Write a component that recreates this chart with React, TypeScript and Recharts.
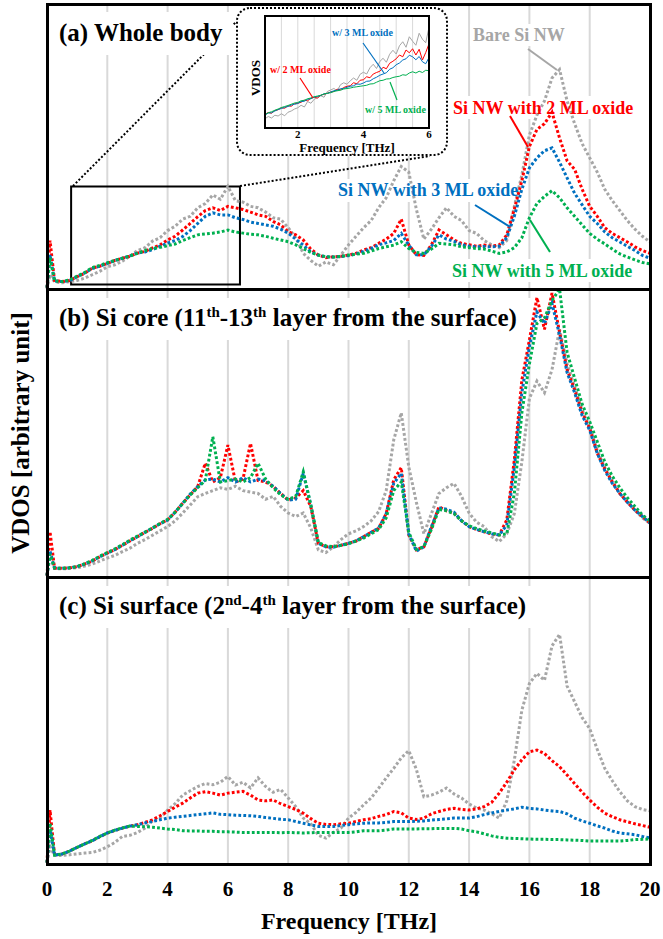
import React from 'react';
import { LineChart, Line, XAxis, YAxis, ReferenceLine, ReferenceArea } from 'recharts';

const FONT = "'Liberation Serif', 'Times New Roman', Times, serif";

// Frequency grid [THz]
const FREQ = [
  0, 0.1,
  0.25, 0.5, 0.75, 1, 1.25, 1.5, 1.75, 2, 2.25, 2.5, 2.75, 3, 3.25, 3.5, 3.75, 4,
  4.25, 4.5, 4.75, 5, 5.25, 5.5, 5.75, 6, 6.25, 6.5, 6.75, 7, 7.25, 7.5, 7.75, 8,
  8.25, 8.5, 8.75, 9, 9.25, 9.5, 9.75, 10, 10.25, 10.5, 10.75, 11, 11.25, 11.5, 11.75, 12,
  12.25, 12.5, 12.75, 13, 13.25, 13.5, 13.75, 14, 14.25, 14.5, 14.75, 15, 15.25, 15.5, 15.75, 16,
  16.25, 16.5, 16.75, 17, 17.25, 17.5, 17.75, 18, 18.25, 18.5, 18.75, 19, 19.25, 19.5, 19.75, 20,
];

// (a) Whole body
const A_BARE = [0, 5,
  2.5, 2.2, 2.6, 3.0, 3.8, 5.0, 6.2, 7.8, 8.5, 9.8, 11.5, 13.5, 14.5, 16.8, 18.0, 20.5,
  22.0, 24.5, 25.5, 28.5, 30.0, 33.0, 31.5, 36.0, 31.0, 30.5, 29.0, 28.5, 27.0, 25.0, 24.5, 21.5,
  18.0, 12.5, 10.0, 8.0, 9.5, 8.5, 12.0, 15.5, 18.5, 21.5, 24.0, 28.5, 32.0, 38.0, 43.0, 41.0,
  28.0, 17.5, 21.0, 25.0, 28.5, 25.5, 24.0, 20.5, 19.5, 17.0, 15.5, 14.5, 17.0, 29.0, 40.0, 54.0,
  61.0, 66.0, 74.0, 77.0, 66.0, 58.0, 51.0, 46.0, 41.0, 35.0, 31.0, 27.5, 24.0, 21.0, 18.5, 16.5,
];
const A_2ML = [0.5, 17,
  3.0, 2.6, 3.0, 4.3, 5.5, 7.3, 8.0, 9.0, 10.0, 10.8, 11.5, 12.6, 13.2, 14.4, 15.5, 17.2,
  18.5, 20.7, 23.0, 25.4, 27.5, 28.5, 27.5, 29.0, 28.5, 27.9, 27.0, 26.0, 25.5, 23.7, 22.5, 20.1,
  19.0, 17.2, 14.0, 11.9, 11.0, 11.3, 11.5, 11.9, 12.5, 13.7, 14.5, 16.0, 17.5, 19.5, 24.5, 15.5,
  12.0, 11.8, 15.5, 20.7, 19.0, 17.2, 16.0, 15.5, 15.0, 15.4, 15.0, 15.5, 19.0, 28.0, 38.0, 50.0,
  56.0, 58.0, 62.0, 53.0, 45.0, 42.0, 35.0, 29.0, 25.5, 21.5, 19.5, 18.0, 16.5, 14.8, 13.5, 12.5,
];
const A_3ML = [0.5, 12,
  2.8, 2.6, 3.0, 4.3, 5.6, 7.2, 8.0, 9.0, 10.0, 10.8, 11.6, 12.6, 13.0, 13.8, 15.0, 16.1,
  17.0, 18.4, 20.5, 23.0, 25.5, 26.7, 26.0, 26.0, 25.0, 24.4, 23.5, 23.0, 22.5, 22.0, 21.0, 19.6,
  17.5, 15.4, 13.0, 11.9, 11.3, 11.2, 11.4, 11.7, 12.3, 13.2, 14.2, 15.5, 16.2, 17.0, 19.5, 15.4,
  12.0, 12.0, 15.0, 19.0, 17.5, 16.7, 15.5, 15.0, 14.8, 14.9, 14.8, 15.0, 18.0, 25.5, 35.0, 42.5,
  46.0, 48.5, 49.5, 44.5, 39.0, 33.6, 29.5, 25.5, 23.0, 20.0, 18.0, 16.5, 15.0, 13.5, 11.8, 10.8,
];
const A_5ML = [0.5, 11,
  2.8, 2.6, 3.2, 4.5, 5.8, 7.5, 8.3, 9.2, 10.0, 10.8, 11.6, 12.5, 13.5, 14.2, 14.6, 15.2,
  15.8, 17.0, 18.0, 19.0, 19.3, 19.6, 20.0, 20.7, 20.0, 19.6, 19.2, 19.0, 18.5, 17.8, 17.2, 16.6,
  15.5, 14.2, 12.8, 11.9, 11.3, 11.2, 11.4, 11.9, 12.2, 12.5, 13.3, 14.2, 14.8, 15.4, 16.6, 14.2,
  12.8, 12.5, 14.0, 16.0, 15.8, 15.5, 14.8, 14.5, 14.2, 14.0, 13.3, 12.5, 13.0, 14.5, 18.0, 25.0,
  30.0, 32.5, 34.5, 32.0, 28.5, 25.5, 22.5, 19.5, 17.5, 15.8, 14.0, 12.3, 11.2, 10.2, 9.3, 8.8,
];

// (b) Si core
const B_BARE = [0.5, 7,
  3.0, 2.8, 3.0, 3.2, 3.8, 4.5, 5.5, 6.6, 7.5, 8.8, 10.0, 11.7, 13.0, 14.5, 16.0, 17.5,
  19.5, 22.2, 25.0, 27.9, 29.0, 30.0, 31.0, 30.4, 31.5, 30.0, 29.5, 29.0, 27.0, 28.0, 24.5, 22.2,
  21.0, 22.2, 17.0, 9.4, 8.5, 10.5, 13.0, 15.0, 16.0, 17.5, 19.5, 22.7, 30.0, 47.6, 57.0, 38.2,
  26.0, 15.0, 22.0, 29.0, 31.0, 32.5, 28.0, 22.2, 19.0, 17.5, 14.0, 12.3, 15.0, 22.0, 40.0, 62.0,
  68.0, 64.0, 72.0, 86.0, 74.0, 66.0, 58.0, 52.0, 44.0, 38.0, 33.0, 29.0, 26.0, 23.2, 20.5, 18.7,
];
const B_2ML = [0.5, 15.7,
  3.1, 3.0, 3.2, 3.6, 4.5, 5.5, 7.0, 8.3, 9.5, 11.0, 12.5, 14.0, 15.5, 16.9, 18.5, 19.8,
  22.5, 25.6, 28.5, 31.4, 39.5, 33.0, 34.5, 45.8, 33.0, 34.0, 46.4, 33.5, 33.0, 31.5, 29.0, 26.7,
  27.5, 30.0, 24.4, 11.7, 10.5, 10.5, 11.0, 11.7, 12.5, 14.0, 15.5, 16.9, 22.0, 33.7, 38.0, 14.6,
  9.4, 10.5, 17.0, 24.4, 23.0, 22.2, 19.5, 17.5, 16.5, 15.7, 15.0, 14.6, 19.8, 40.6, 68.4, 82.3,
  97.0, 86.0, 98.6, 85.0, 72.0, 65.0, 57.0, 51.6, 43.0, 37.5, 33.0, 29.0, 26.0, 23.2, 21.0, 18.7,
];
const B_3ML = [0.5, 9,
  3.1, 3.0, 3.2, 3.6, 4.5, 5.6, 7.0, 8.3, 9.5, 11.0, 12.6, 14.0, 15.5, 17.0, 18.5, 19.8,
  22.5, 25.6, 28.8, 31.4, 33.7, 34.0, 33.0, 34.5, 33.0, 34.5, 33.0, 34.0, 33.5, 31.5, 29.0, 26.7,
  27.0, 36.0, 25.0, 11.7, 10.5, 10.3, 11.0, 11.7, 12.5, 14.0, 15.5, 17.0, 22.0, 32.5, 36.0, 15.0,
  9.0, 10.5, 17.5, 24.0, 23.5, 22.5, 19.5, 17.5, 16.5, 15.7, 15.0, 14.6, 18.0, 38.0, 64.0, 80.0,
  92.0, 88.0, 95.0, 84.0, 71.0, 64.0, 56.0, 51.0, 43.0, 37.0, 32.5, 29.0, 26.0, 23.2, 21.0, 18.7,
];
const B_5ML = [0.5, 8,
  3.1, 3.0, 3.2, 3.6, 4.6, 5.8, 7.2, 8.5, 9.8, 11.2, 12.8, 14.2, 15.6, 17.0, 18.6, 20.0,
  22.5, 25.5, 28.5, 31.0, 33.5, 48.7, 33.0, 33.5, 34.0, 33.0, 34.5, 39.5, 34.0, 31.0, 28.5, 27.0,
  28.0, 36.5, 25.0, 12.0, 10.8, 10.5, 11.0, 11.5, 12.5, 13.5, 15.0, 16.5, 20.5, 30.0, 33.0, 15.5,
  9.6, 10.5, 16.5, 23.5, 23.0, 22.0, 19.5, 17.8, 16.8, 16.0, 15.3, 14.6, 15.0, 29.0, 57.0, 74.0,
  88.0, 90.0, 96.0, 100.0, 78.0, 69.0, 60.0, 54.0, 47.0, 40.0, 35.0, 31.0, 27.5, 24.5, 21.5, 19.5,
];

// (c) Si surface
const C_BARE = [0.5, 6,
  3.0, 3.0, 3.2, 3.5, 3.8, 4.0, 4.8, 6.0, 7.5, 9.6, 10.0, 11.0, 12.5, 15.0, 16.0, 18.8,
  21.0, 24.0, 25.5, 27.0, 28.0, 27.6, 28.5, 30.5, 27.5, 28.5, 26.5, 30.0, 27.0, 25.0, 26.0, 23.0,
  20.0, 16.0, 14.0, 10.0, 9.0, 11.0, 12.5, 16.0, 18.0, 20.6, 23.0, 26.4, 30.0, 33.3, 37.0, 39.5,
  33.0, 23.4, 24.0, 25.0, 26.5, 24.4, 23.0, 20.9, 19.5, 18.8, 17.5, 16.0, 22.0, 36.2, 53.6, 62.9,
  66.4, 64.0, 76.0, 80.0, 62.0, 56.5, 51.0, 47.2, 40.0, 33.3, 29.0, 25.2, 22.0, 20.0, 19.0, 18.5,
];
const C_2ML = [0.5, 18.8,
  3.1, 3.5, 4.5, 5.8, 7.0, 8.1, 9.5, 10.8, 11.7, 12.5, 13.2, 13.7, 14.5, 15.4, 16.8, 18.3,
  19.8, 21.2, 23.0, 24.7, 25.2, 24.7, 24.0, 24.7, 25.0, 25.3, 24.0, 22.3, 22.0, 22.3, 21.0, 20.0,
  19.0, 17.7, 15.8, 14.2, 13.8, 13.7, 14.0, 14.2, 14.8, 15.4, 15.8, 16.6, 17.2, 18.3, 17.8, 16.0,
  15.5, 16.0, 17.5, 18.3, 19.0, 19.4, 19.0, 18.8, 19.2, 20.0, 21.5, 24.7, 28.5, 32.8, 36.3, 39.1,
  39.7, 38.5, 36.0, 33.9, 31.0, 28.0, 25.0, 22.3, 19.8, 17.7, 16.5, 15.4, 14.7, 14.0, 13.4, 12.8,
];
const C_3ML = [0.5, 12,
  3.1, 3.5, 4.5, 5.8, 7.0, 8.1, 9.5, 10.8, 11.7, 12.5, 13.2, 13.7, 14.3, 14.8, 15.4, 16.0,
  16.3, 16.6, 16.9, 17.2, 17.5, 17.8, 17.3, 17.2, 17.0, 16.9, 16.8, 16.6, 16.2, 15.9, 15.6, 15.4,
  14.8, 14.2, 13.6, 13.1, 13.1, 13.1, 13.4, 13.7, 14.0, 14.2, 14.3, 14.3, 14.5, 14.8, 14.8, 14.8,
  14.9, 15.0, 15.3, 15.5, 15.7, 16.0, 16.0, 16.0, 16.5, 17.2, 17.8, 18.3, 18.8, 19.2, 19.8, 19.4,
  19.2, 18.8, 18.5, 18.3, 17.5, 16.0, 15.0, 14.2, 13.3, 12.5, 11.5, 10.8, 10.5, 10.2, 9.6, 9.1,
];
const C_5ML = [0.5, 14.2,
  3.1, 3.5, 4.5, 5.8, 7.0, 8.2, 9.6, 10.8, 11.8, 12.6, 13.2, 13.1, 13.0, 12.8, 12.5, 12.2,
  12.0, 11.6, 11.5, 11.5, 11.4, 11.4, 11.2, 11.2, 11.1, 11.0, 11.0, 11.0, 11.0, 11.0, 10.9, 11.0,
  10.9, 10.8, 10.9, 11.0, 11.0, 11.0, 11.0, 11.0, 11.2, 11.6, 11.6, 11.6, 11.8, 12.2, 12.2, 12.2,
  12.2, 12.3, 12.3, 12.4, 12.4, 12.4, 12.2, 11.6, 11.2, 10.5, 9.8, 9.3, 9.0, 8.9, 8.8, 8.7,
  8.6, 8.6, 8.5, 8.5, 8.4, 8.3, 8.2, 8.0, 8.0, 8.0, 8.0, 8.0, 8.2, 8.5, 8.6, 8.7,
];

// Inset: whole body, 1-6 THz at finer resolution
const INSET_FREQ = [
  1.0, 1.1, 1.2, 1.3, 1.4, 1.5, 1.6, 1.7, 1.8, 1.9,
  2.0, 2.1, 2.2, 2.3, 2.4, 2.5, 2.6, 2.7, 2.8, 2.9,
  3.0, 3.1, 3.2, 3.3, 3.4, 3.5, 3.6, 3.7, 3.8, 3.9,
  4.0, 4.1, 4.2, 4.3, 4.4, 4.5, 4.6, 4.7, 4.8, 4.9,
  5.0, 5.1, 5.2, 5.3, 5.4, 5.5, 5.6, 5.7, 5.8, 5.9, 6.0,
];
const INSET_BARE = [
  2.0, 2.9, 2.3, 3.4, 3.1, 4.0, 3.2, 4.6, 5.1, 5.9,
  6.4, 7.4, 6.7, 8.9, 8.2, 9.8, 10.4, 11.2, 10.6, 12.9,
  13.5, 14.1, 13.2, 15.6, 16.4, 15.8, 17.2, 18.3, 17.4, 19.8,
  20.6, 19.9, 22.4, 23.8, 22.1, 24.9, 26.2, 24.6, 27.8, 29.4,
  27.9, 31.2, 32.8, 30.6, 34.8, 33.0, 31.4, 36.2, 33.8, 32.4, 38.6,
];
const INSET_2ML = [
  3.8, 4.5, 4.2, 5.3, 5.6, 6.4, 6.2, 7.2, 7.0, 8.0,
  8.2, 8.6, 9.4, 9.2, 10.2, 10.6, 10.3, 11.4, 11.8, 12.2,
  12.7, 12.9, 13.8, 13.6, 14.5, 15.0, 15.2, 16.4, 16.0, 17.4,
  17.6, 18.8, 18.4, 19.9, 20.5, 21.0, 22.6, 22.0, 24.2, 25.0,
  26.0, 27.5, 26.8, 29.5, 28.4, 30.0, 27.5, 29.8, 25.5, 28.5, 32.0,
];
const INSET_3ML = [
  3.5, 4.3, 4.4, 5.1, 5.7, 6.1, 6.6, 6.9, 7.5, 7.8,
  8.1, 8.9, 9.0, 9.8, 10.0, 10.7, 10.9, 11.3, 12.0, 12.1,
  12.7, 13.2, 13.4, 14.0, 14.1, 14.6, 15.0, 15.2, 15.9, 15.8,
  16.3, 17.0, 17.1, 18.0, 18.6, 19.4, 19.9, 20.4, 21.8, 22.4,
  23.6, 24.3, 25.5, 26.0, 27.4, 26.8, 25.6, 26.9, 24.8, 24.0, 26.5,
];
const INSET_5ML = [
  3.6, 4.4, 4.8, 5.4, 5.9, 6.5, 6.9, 7.3, 7.8, 8.3,
  8.5, 9.2, 9.4, 10.0, 10.3, 10.8, 11.1, 11.4, 11.9, 12.2,
  12.4, 12.9, 13.2, 13.4, 13.9, 14.1, 14.3, 14.6, 14.8, 15.0,
  15.2, 15.4, 15.9, 16.0, 16.6, 17.2, 17.4, 17.9, 18.0, 18.5,
  18.8, 19.0, 19.6, 19.4, 20.3, 20.8, 20.3, 21.0, 20.5, 21.4, 21.2,
];

const SERIES = [
  { key: 'bare', color: '#a6a6a6' },
  { key: 'ml2', color: '#ff0000' },
  { key: 'ml3', color: '#0070c0' },
  { key: 'ml5', color: '#00b050' },
];

const X_TICKS = [0, 2, 4, 6, 8, 10, 12, 14, 16, 18, 20];
const GRID_F = [2, 4, 6, 8, 10, 12, 14, 16, 18];
const INSET_TICKS = [2, 4, 6];
const INSET_GRID = [1.5, 2, 2.5, 3, 3.5, 4, 4.5, 5, 5.5];
const ZOOM_BOX = { x1: 0.8, x2: 6.4, y1: 1.6, y2: 36 };

type Row = { f: number; bare: number; ml2: number; ml3: number; ml5: number };
const buildRows = (freq: number[], bare: number[], ml2: number[], ml3: number[], ml5: number[]): Row[] =>
  freq.map((f, i) => ({ f, bare: bare[i], ml2: ml2[i], ml3: ml3[i], ml5: ml5[i] }));

const ROWS_A = buildRows(FREQ, A_BARE, A_2ML, A_3ML, A_5ML);
const ROWS_B = buildRows(FREQ, B_BARE, B_2ML, B_3ML, B_5ML);
const ROWS_C = buildRows(FREQ, C_BARE, C_2ML, C_3ML, C_5ML);
const ROWS_INSET = buildRows(INSET_FREQ, INSET_BARE, INSET_2ML, INSET_3ML, INSET_5ML);

const W = 663;
const M_LEFT = 47;
const M_RIGHT = 13;
const PAD = 10;
const AXIS_H = 40;

type PanelDef = { id: string; top: number; h: number; rows: Row[]; axis?: boolean; zoom?: boolean };
const PANELS: PanelDef[] = [
  { id: 'a', top: 4, h: 285, rows: ROWS_A, zoom: true },
  { id: 'b', top: 289, h: 288, rows: ROWS_B },
  { id: 'c', top: 577, h: 287, rows: ROWS_C, axis: true },
];

// vertical frequency gridlines, drawn beneath the title boxes and the data
function GridLayer({ p }: { p: PanelDef }) {
  const height = PAD + p.h + (p.axis ? AXIS_H : PAD);
  return (
    <div style={{ position: 'absolute', left: 0, top: p.top - PAD }}>
      <LineChart
        width={W}
        height={height}
        data={p.rows}
        margin={{ top: PAD, right: M_RIGHT, left: M_LEFT, bottom: p.axis ? AXIS_H : PAD }}
      >
        <XAxis type="number" dataKey="f" domain={[0, 20]} hide />
        <YAxis type="number" domain={[0, 100]} hide />
        {GRID_F.map((g) => (
          <ReferenceLine key={g} x={g} stroke="#d9d9d9" strokeWidth={2} />
        ))}
        <Line dataKey="bare" stroke="none" dot={false} activeDot={false} isAnimationActive={false} />
      </LineChart>
    </div>
  );
}

function DataLayer({ p }: { p: PanelDef }) {
  const height = PAD + p.h + (p.axis ? AXIS_H : PAD);
  return (
    <div style={{ position: 'absolute', left: 0, top: p.top - PAD }}>
      <LineChart
        width={W}
        height={height}
        data={p.rows}
        margin={{ top: PAD, right: M_RIGHT, left: M_LEFT, bottom: p.axis ? 0 : PAD }}
      >
        <XAxis
          type="number"
          dataKey="f"
          domain={[0, 20]}
          ticks={X_TICKS}
          interval={0}
          hide={!p.axis}
          height={AXIS_H}
          tickLine={false}
          axisLine={false}
          tickSize={0}
          tickMargin={17}
          tick={{ fill: '#000', fontSize: 21, fontWeight: 700, fontFamily: FONT }}
        />
        <YAxis type="number" domain={[0, 100]} hide />
        {SERIES.map((s) => (
          <Line
            key={s.key}
            dataKey={s.key}
            type="linear"
            stroke={s.color}
            strokeWidth={3}
            strokeDasharray="2.8 2.2"
            dot={false}
            isAnimationActive={false}
          />
        ))}
        {p.zoom && (
          <ReferenceArea
            x1={ZOOM_BOX.x1}
            x2={ZOOM_BOX.x2}
            y1={ZOOM_BOX.y1}
            y2={ZOOM_BOX.y2}
            fill="none"
            fillOpacity={0}
            stroke="#000"
            strokeWidth={2}
            strokeOpacity={1}
          />
        )}
      </LineChart>
    </div>
  );
}

function Inset() {
  return (
    <>
      <div
        style={{
          position: 'absolute',
          left: 236,
          top: 7,
          width: 212,
          height: 149,
          boxSizing: 'border-box',
          border: '2px dotted #000',
          borderRadius: 14,
          background: '#fff',
        }}
      />
      <div style={{ position: 'absolute', left: 255, top: 6 }}>
        <LineChart width={185} height={142} data={ROWS_INSET} margin={{ top: 10, right: 11, left: 10, bottom: 0 }}>
          <XAxis
            type="number"
            dataKey="f"
            domain={[1, 6]}
            ticks={INSET_TICKS}
            interval={0}
            height={20}
            tickLine={false}
            axisLine={false}
            tickSize={0}
            tickMargin={2}
            allowDataOverflow
            tick={{ fill: '#000', fontSize: 11, fontWeight: 700, fontFamily: FONT }}
          />
          <YAxis type="number" domain={[-1.7, 43.1]} hide allowDataOverflow />
          {INSET_GRID.map((g) => (
            <ReferenceLine key={g} x={g} stroke="#d9d9d9" strokeWidth={1} />
          ))}
          {SERIES.map((s) => (
            <Line
              key={s.key}
              dataKey={s.key}
              type="linear"
              stroke={s.color}
              strokeWidth={1}
              dot={false}
              isAnimationActive={false}
            />
          ))}
        </LineChart>
      </div>
      <div
        style={{
          position: 'absolute',
          left: 264,
          top: 15,
          width: 166,
          height: 114,
          boxSizing: 'border-box',
          border: '2px solid #000',
        }}
      />
    </>
  );
}

const bold = { fontFamily: FONT, fontWeight: 700 } as const;

export default function App() {
  return (
    <div
      style={{
        position: 'absolute',
        left: 0,
        top: 0,
        width: W,
        height: 939,
        background: '#fff',
        overflow: 'hidden',
      }}
    >
      {PANELS.map((p) => (
        <GridLayer key={'g' + p.id} p={p} />
      ))}

      {/* zoom connectors and white text boxes under the data */}
      <svg width={W} height={939} style={{ position: 'absolute', left: 0, top: 0 }}>
        <line x1={73} y1={186} x2={238} y2={20} stroke="#000" strokeWidth={2} strokeDasharray="2 2" />
        <line x1={240} y1={186} x2={430} y2={156} stroke="#000" strokeWidth={2} strokeDasharray="2 2" />
        <rect x={52} y={12} width={181} height={43} fill="#fff" />
        <rect x={52} y={298} width={486} height={42} fill="#fff" />
        <rect x={52} y={586} width={492} height={42} fill="#fff" />
        <rect x={470} y={24} width={96} height={22} fill="#fff" />
        <rect x={450} y={96} width={192} height={23} fill="#fff" />
        <rect x={335} y={179} width={184} height={23} fill="#fff" />
        <rect x={449} y={259} width={182} height={23} fill="#fff" />
      </svg>

      {PANELS.map((p) => (
        <DataLayer key={'d' + p.id} p={p} />
      ))}

      <Inset />

      <svg width={W} height={939} style={{ position: 'absolute', left: 0, top: 0 }}>
        {/* panel titles */}
        <text x={59} y={41} fontSize={25} {...bold}>
          (a) Whole body
        </text>
        <text x={59} y={326} fontSize={25} {...bold}>
          (b) Si core (11<tspan dy={-9} fontSize={15}>th</tspan>
          <tspan dy={9}>-13</tspan>
          <tspan dy={-9} fontSize={15}>th</tspan>
          <tspan dy={9}> layer from the surface)</tspan>
        </text>
        <text x={59} y={614} fontSize={25} {...bold}>
          (c) Si surface (2<tspan dy={-9} fontSize={15}>nd</tspan>
          <tspan dy={9}>-4</tspan>
          <tspan dy={-9} fontSize={15}>th</tspan>
          <tspan dy={9}> layer from the surface)</tspan>
        </text>

        {/* series labels with leaders */}
        <text x={473} y={41} fontSize={18} fill="#a6a6a6" {...bold}>Bare Si NW</text>
        <line x1={528} y1={49} x2={557} y2={70} stroke="#a6a6a6" strokeWidth={2} />
        <text x={453} y={114} fontSize={18} fill="#ff0000" {...bold}>Si NW with 2 ML oxide</text>
        <line x1={510} y1={116} x2={528} y2={147} stroke="#ff0000" strokeWidth={2} />
        <text x={338} y={196} fontSize={18} fill="#0070c0" {...bold}>Si NW with 3 ML oxide</text>
        <line x1={475} y1={205} x2={510} y2={227} stroke="#0070c0" strokeWidth={2} />
        <text x={452} y={277} fontSize={18} fill="#00b050" {...bold}>Si NW with 5 ML oxide</text>
        <line x1={530} y1={220} x2={550} y2={252} stroke="#00b050" strokeWidth={2} />

        {/* inset labels */}
        <text x={332} y={36} fontSize={10} fill="#0070c0" {...bold}>w/ 3 ML oxide</text>
        <line x1={363} y1={43} x2={384} y2={73} stroke="#0070c0" strokeWidth={1.2} />
        <text x={270} y={73} fontSize={10} fill="#ff0000" {...bold}>w/ 2 ML oxide</text>
        <line x1={300} y1={78} x2={313} y2={98} stroke="#ff0000" strokeWidth={1.2} />
        <text x={365} y={113} fontSize={10} fill="#00b050" {...bold}>w/ 5 ML oxide</text>
        <line x1={390} y1={82} x2={397} y2={100} stroke="#00b050" strokeWidth={1.2} />
        <text x={347} y={152} fontSize={13} textAnchor="middle" {...bold}>Frequency [THz]</text>
        <text
          x={255}
          y={78}
          fontSize={13}
          textAnchor="middle"
          dominantBaseline="central"
          transform="rotate(-90 255 78)"
          {...bold}
        >
          VDOS
        </text>

        {/* axis titles */}
        <text x={349} y={929} fontSize={24} textAnchor="middle" {...bold}>Frequency [THz]</text>
        <text
          x={20}
          y={433}
          fontSize={25}
          textAnchor="middle"
          dominantBaseline="central"
          transform="rotate(-90 20 433)"
          {...bold}
        >
          VDOS [arbitrary unit]
        </text>
      </svg>

      {/* panel frames */}
      <div
        style={{
          position: 'absolute',
          left: 46,
          top: 3,
          width: 606,
          height: 863,
          boxSizing: 'border-box',
          border: '3px solid #000',
        }}
      />
      <div style={{ position: 'absolute', left: 46, top: 288, width: 606, height: 3, background: '#000' }} />
      <div style={{ position: 'absolute', left: 46, top: 576, width: 606, height: 3, background: '#000' }} />
    </div>
  );
}
